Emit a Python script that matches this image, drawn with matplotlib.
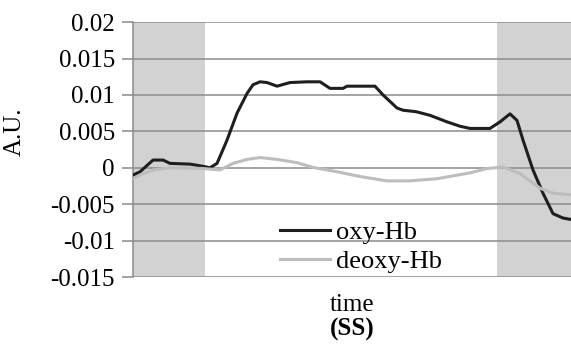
import matplotlib.pyplot as plt

plt.rcParams['font.family'] = ['Liberation Serif', 'DejaVu Serif']

# time in samples (arbitrary units)
oxy_t = [0, 7, 20, 30, 37, 57, 70, 77, 84, 94, 104, 114, 120, 127, 134, 144, 157, 174,
         187, 197, 210, 214, 227, 242, 250, 264, 270, 283, 297, 314, 327, 337, 357, 367,
         377, 384, 390, 400, 410, 420, 430, 438]
oxy_hb = [-0.001, -0.00055, 0.00106, 0.00106, 0.0006, 0.0005, 0.0002, 0.0, 0.0006, 0.0038,
          0.0075, 0.0102, 0.0114, 0.0118, 0.0117, 0.0112, 0.0117, 0.0118, 0.0118, 0.0109,
          0.0109, 0.0112, 0.0112, 0.0112, 0.0100, 0.0082, 0.0079, 0.0077, 0.0072, 0.0063,
          0.0057, 0.0054, 0.0054, 0.0063, 0.0074, 0.0065, 0.0038, -0.0003, -0.0035, -0.0063,
          -0.0069, -0.0071]

deoxy_t = [0, 10, 20, 37, 70, 87, 100, 114, 127, 144, 164, 180, 204, 227, 254, 277, 304,
           337, 354, 370, 387, 407, 420, 438]
deoxy_hb = [-0.0015, -0.0008, -0.0003, 0.0, -0.0001, -0.0003, 0.0006, 0.00115, 0.0014,
            0.00115, 0.0007, 0.00005, -0.00055, -0.0012, -0.0018, -0.0018, -0.0015, -0.0007,
            -0.0001, 0.0001, -0.0008, -0.0028, -0.0035, -0.0037]

rest_periods = [(0, 72), (364, 438)]
yticks = [-0.015, -0.01, -0.005, 0, 0.005, 0.01, 0.015, 0.02]
ytick_labels = ['-0.015', '-0.01', '-0.005', '0', '0.005', '0.01', '0.015', '0.02']

fig = plt.figure(figsize=(5.71, 3.45), dpi=100)
ax = fig.add_axes([0.233, 0.197, 0.767, 0.739])

for a, b in rest_periods:
    ax.axvspan(a, b, color='#d2d2d2', lw=0, zorder=0)

ax.plot(oxy_t, oxy_hb, color='#1e1e1e', lw=2.2, label='oxy-Hb', zorder=3)
ax.plot(deoxy_t, deoxy_hb, color='#bdbdbd', lw=2.2, label='deoxy-Hb', zorder=4)

ax.set_xlim(0, 438)
ax.set_ylim(-0.015, 0.02)
ax.set_yticks(yticks)
ax.set_yticklabels(ytick_labels, fontsize=18)
ax.set_xticks([])
ax.grid(axis='y', color='#8c8c8c', lw=1.1, zorder=1)
ax.set_axisbelow(True)
for s in ['top', 'right', 'bottom']:
    ax.spines[s].set_visible(False)
ax.spines['left'].set_color('#8c8c8c')
ax.spines['left'].set_linewidth(1.1)
ax.tick_params(axis='y', length=8, color='#8c8c8c', width=1.1, pad=5)

ax.set_ylabel('A.U.', fontsize=18)
ax.yaxis.set_label_coords(-0.245, 0.57)

ax.legend(loc='lower left', bbox_to_anchor=(0.294, -0.057), frameon=False, fontsize=19,
          handlelength=1.9, handletextpad=0.2, labelspacing=0.2, borderpad=0.2)

fig.text(0.617, 0.115, 'time', ha='center', va='center', fontsize=18)
fig.text(0.617, 0.045, '(SS)', ha='center', va='center', fontsize=18, fontweight='bold')

fig.savefig('out.png', dpi=100)
